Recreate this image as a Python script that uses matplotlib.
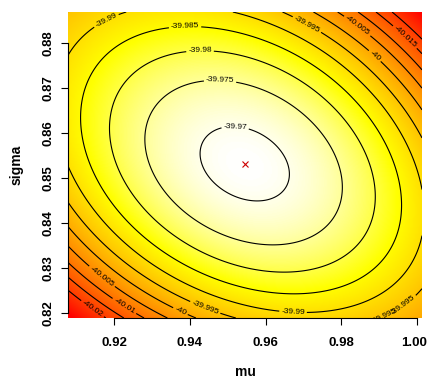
import numpy as np
import matplotlib
matplotlib.use("Agg")
import matplotlib.pyplot as plt
import matplotlib.transforms as mtransforms
from matplotlib.colors import ListedColormap, hsv_to_rgb

# ---- data ----
mu_range = [0.90785, 1.00132]
sigma_range = [0.81889, 0.88689]
mle_mu = 0.95459
mle_sigma = 0.85311
loglik_max = -39.9687
# surface shape (normalised units: u=(mu-mle)/u_scale, v=(sigma-mle)/v_scale)
u_scale = 0.04673
v_scale = 0.03378
coef_uu = 0.0221
coef_vv = 0.0235
coef_uv = 0.0124
coef_uuvv = 0.0002
coef_uv_r2 = 0.0022
coef_uuu = 0.001
coef_vvv = -0.0013
colour_floor = -40.031
levels = [-40.02, -40.015, -40.01, -40.005, -40.0, -39.995, -39.99,
          -39.985, -39.98, -39.975, -39.97]
xticks = [0.92, 0.94, 0.96, 0.98, 1.00]
yticks = [0.82, 0.83, 0.84, 0.85, 0.86, 0.87, 0.88]
label_pos = [(0.91815, 0.88467), (0.93875, 0.88378), (0.94271, 0.87822),
             (0.94799, 0.87133), (0.95195, 0.86067), (0.97043, 0.88333),
             (0.98442, 0.88400), (0.98838, 0.87667), (0.99683, 0.88133),
             (0.96726, 0.82000), (0.99023, 0.82133), (0.99683, 0.82111),
             (0.91710, 0.82844), (0.92290, 0.82178), (0.91446, 0.82111),
             (0.93743, 0.82022), (0.94403, 0.82111)]

# ---- surface ----
mu = np.linspace(mu_range[0], mu_range[1], 300)
sigma = np.linspace(sigma_range[0], sigma_range[1], 300)
M, S = np.meshgrid(mu, sigma)
U = (M - mle_mu) / u_scale
V = (S - mle_sigma) / v_scale
Z = loglik_max - (coef_uu * U**2 + coef_vv * V**2 + coef_uv * U * V
                  - coef_uuvv * U**2 * V**2 + coef_uv_r2 * U * V * (U**2 + V**2)
                  + coef_uuu * U**3 + coef_vvv * V**3)

# R heat.colors(n)
def heat_colors(n):
    j = n // 4
    i = n - j
    h = np.linspace(0, 1 / 6, i)
    cols = [hsv_to_rgb([hh, 1, 1]) for hh in h]
    if j > 0:
        s = np.linspace(1 - 1 / (2 * j), 1 / (2 * j), j)
        cols += [hsv_to_rgb([1 / 6, ss, 1]) for ss in s]
    return ListedColormap(cols)

cmap = heat_colors(256)

plt.rcParams['font.family'] = ['Liberation Sans', 'DejaVu Sans']
fig = plt.figure(figsize=(4.29, 3.78), dpi=100)
ax = fig.add_axes([68 / 429, 60 / 378, 354 / 429, 306 / 378])
ax.imshow(Z, origin='lower', extent=[mu_range[0], mu_range[1], sigma_range[0], sigma_range[1]],
          cmap=cmap, vmin=colour_floor, vmax=Z.max(), aspect='auto', interpolation='bilinear')
cs = ax.contour(M, S, Z, levels=levels, colors='black', linewidths=0.8, linestyles='solid')

def fmt(v):
    return f"{v:.3f}".rstrip('0').rstrip('.')

ax.clabel(cs, fmt=fmt, fontsize=6, inline=True, inline_spacing=2, manual=label_pos)
ax.plot([mle_mu], [mle_sigma], marker='x', color='#cc0000', markersize=5, mew=0.8, ls='none')

ax.set_xlim(mu_range)
ax.set_ylim(sigma_range)
ax.set_xticks(xticks)
ax.set_yticks(yticks)
ax.set_xticklabels([f"{t:.2f}" for t in xticks], fontsize=9.5, fontweight='bold')
ax.set_yticklabels([f"{t:.2f}" for t in yticks], fontsize=9.5, fontweight='bold',
                   rotation=90, va='center')
ax.tick_params(length=5, width=0.8)
ax.tick_params(axis='x', pad=9)
ax.tick_params(axis='y', pad=5)
last = ax.get_xticklabels()[-1]
last.set_transform(last.get_transform() + mtransforms.ScaledTranslation(-3 / 100, 0, fig.dpi_scale_trans))
for sp in ['top', 'right']:
    ax.spines[sp].set_visible(False)
ax.spines['bottom'].set_bounds(xticks[0], xticks[-1])
ax.spines['left'].set_bounds(yticks[0], yticks[-1])
ax.spines['bottom'].set_linewidth(0.8)
ax.spines['left'].set_linewidth(0.8)

ax.set_xlabel('mu', fontsize=10, fontweight='bold', va='center')
ax.set_ylabel('sigma', fontsize=10, fontweight='bold', va='center')
ax.xaxis.set_label_coords(0.5, -54 / 306)
ax.yaxis.set_label_coords(-51 / 354, 0.5)

fig.savefig('out.png', dpi=100)
